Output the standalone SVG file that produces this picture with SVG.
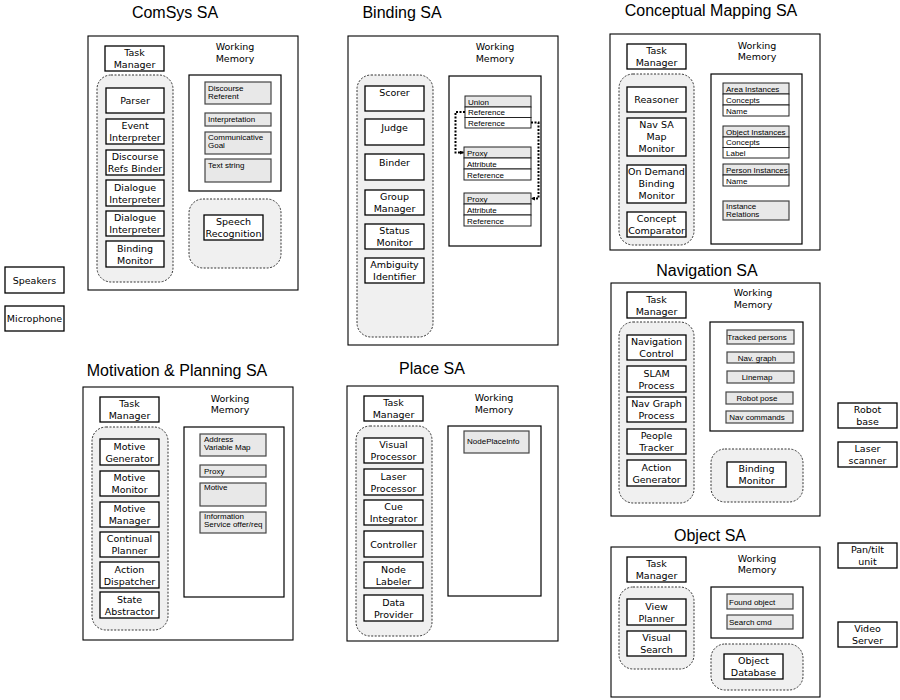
<svg xmlns="http://www.w3.org/2000/svg" width="900" height="700" viewBox="0 0 900 700">
<defs>
<style>
.title{font-family:"Liberation Sans",Arial,sans-serif;font-size:16px;text-anchor:middle;fill:#000}
.sa{fill:#fff;stroke:#000;stroke-width:1.1}
.grp{fill:#f0f0f0;stroke:#333;stroke-width:1;stroke-dasharray:2 1.5}
.node{fill:#fff;stroke:#000;stroke-width:1.3}
.t{font-family:"DejaVu Sans",Verdana,sans-serif;font-size:9.5px;text-anchor:middle;fill:#000}
.wm{fill:#fff;stroke:#000;stroke-width:1.2}
.item{fill:#e8e8e8;stroke:#444;stroke-width:1.2}
.row{fill:#fff;stroke:#222;stroke-width:1}
.hdr{fill:#e8e8e8;stroke:#222;stroke-width:1}
.s{font-family:"Liberation Sans",Arial,sans-serif;font-size:8px;fill:#000}
.sc{font-family:"Liberation Sans",Arial,sans-serif;font-size:8px;fill:#000;text-anchor:middle}
.conn{fill:none;stroke:#000;stroke-width:2;stroke-dasharray:2 1.5}
</style>
<marker id="ah" viewBox="0 0 10 10" refX="9" refY="5" markerWidth="4" markerHeight="4" orient="auto" markerUnits="userSpaceOnUse">
<path d="M0,0 L10,5 L0,10 z" fill="#000"/>
</marker>
</defs>
<rect x="0" y="0" width="900" height="700" fill="#fff"/>

<!-- ComSys SA -->
<g id="comsys">
<text class="title" x="175" y="18">ComSys SA</text>
<rect class="sa" x="88" y="36" width="210" height="254"/>
<text class="t" x="235" y="50">Working<tspan x="235" dy="11.5">Memory</tspan></text>
<rect class="grp" x="97" y="75" width="76" height="207" rx="14"/>
<rect class="wm" x="189" y="75" width="92" height="116"/>
<rect class="grp" x="189" y="199" width="92" height="69" rx="14"/>
</g>
<g id="comsys-task"><rect class="node" x="105" y="46" width="59" height="25"/><text class="t" x="134.5" y="56">Task<tspan x="134.5" dy="12">Manager</tspan></text></g>
<g id="comsys-parser"><rect class="node" x="106" y="88" width="58" height="25"/><text class="t" x="135" y="104">Parser</text></g>
<g id="comsys-event"><rect class="node" x="106" y="119" width="58" height="25"/><text class="t" x="135" y="129">Event<tspan x="135" dy="12">Interpreter</tspan></text></g>
<g id="comsys-drb"><rect class="node" x="106" y="150" width="58" height="25"/><text class="t" x="135" y="160">Discourse<tspan x="135" dy="12">Refs Binder</tspan></text></g>
<g id="comsys-di1"><rect class="node" x="106" y="180" width="58" height="26"/><text class="t" x="135" y="190.5">Dialogue<tspan x="135" dy="12">Interpreter</tspan></text></g>
<g id="comsys-di2"><rect class="node" x="106" y="211" width="58" height="25"/><text class="t" x="135" y="221">Dialogue<tspan x="135" dy="12">Interpreter</tspan></text></g>
<g id="comsys-bm"><rect class="node" x="106" y="241" width="58" height="26"/><text class="t" x="135" y="251.5">Binding<tspan x="135" dy="12">Monitor</tspan></text></g>
<g id="comsys-wm-dr"><rect class="item" x="205" y="82" width="66" height="22"/><text class="s" x="208" y="91">Discourse<tspan x="208" dy="8">Referent</tspan></text></g>
<g id="comsys-wm-int"><rect class="item" x="205" y="113" width="66" height="13"/><text class="s" x="208" y="122">Interpretation</text></g>
<g id="comsys-wm-cg"><rect class="item" x="205" y="132" width="66" height="22"/><text class="s" x="208" y="140">Communicative<tspan x="208" dy="8">Goal</tspan></text></g>
<g id="comsys-wm-ts"><rect class="item" x="205" y="159" width="66" height="23"/><text class="s" x="208" y="168">Text string</text></g>
<g id="comsys-sr"><rect class="node" x="204" y="215" width="59" height="25"/><text class="t" x="233.5" y="225">Speech<tspan x="233.5" dy="12">Recognition</tspan></text></g>
<g id="speakers"><rect class="node" x="5" y="267" width="59" height="26"/><text class="t" x="34.5" y="283.5">Speakers</text></g>
<g id="microphone"><rect class="node" x="5" y="306" width="59" height="25"/><text class="t" x="34.5" y="322">Microphone</text></g>

<!-- Binding SA -->
<g id="binding">
<text class="title" x="402" y="18">Binding SA</text>
<rect class="sa" x="348" y="36" width="210" height="309"/>
<text class="t" x="495" y="50">Working<tspan x="495" dy="11.5">Memory</tspan></text>
<rect class="grp" x="357" y="75" width="76" height="262" rx="14"/>
<rect class="wm" x="449" y="76" width="92" height="170"/>
</g>
<g id="binding-scorer"><rect class="node" x="365" y="86" width="59" height="25"/><text class="t" x="394.5" y="95.5">Scorer</text></g>
<g id="binding-judge"><rect class="node" x="365" y="119" width="59" height="26"/><text class="t" x="394.5" y="130.5">Judge</text></g>
<g id="binding-binder"><rect class="node" x="365" y="154" width="59" height="26"/><text class="t" x="394.5" y="165.5">Binder</text></g>
<g id="binding-gm"><rect class="node" x="365" y="190" width="59" height="25"/><text class="t" x="394.5" y="199.5">Group<tspan x="394.5" dy="12">Manager</tspan></text></g>
<g id="binding-sm"><rect class="node" x="365" y="224" width="59" height="25"/><text class="t" x="394.5" y="234">Status<tspan x="394.5" dy="12">Monitor</tspan></text></g>
<g id="binding-ai"><rect class="node" x="365" y="258" width="59" height="25"/><text class="t" x="394.5" y="267.5">Ambiguity<tspan x="394.5" dy="12">Identifier</tspan></text></g>
<g id="binding-union">
<rect class="hdr" x="465" y="96" width="66" height="11"/><text class="s" x="468" y="104.5">Union</text>
<rect class="row" x="465" y="107" width="66" height="10.5"/><text class="s" x="468" y="115">Reference</text>
<rect class="row" x="465" y="117.5" width="66" height="10.5"/><text class="s" x="468" y="125.5">Reference</text>
</g>
<g id="binding-proxy1">
<rect class="hdr" x="464" y="147" width="67" height="11"/><text class="s" x="467" y="155.5">Proxy</text>
<rect class="row" x="464" y="158" width="67" height="11"/><text class="s" x="467" y="166.5">Attribute</text>
<rect class="row" x="464" y="169" width="67" height="11"/><text class="s" x="467" y="177.5">Reference</text>
</g>
<g id="binding-proxy2">
<rect class="hdr" x="464" y="193" width="67" height="11"/><text class="s" x="467" y="201.5">Proxy</text>
<rect class="row" x="464" y="204" width="67" height="11"/><text class="s" x="467" y="212.5">Attribute</text>
<rect class="row" x="464" y="215" width="67" height="11"/><text class="s" x="467" y="223.5">Reference</text>
</g>
<g id="connectors">
<path class="conn" d="M465,112 H455.5 V152.5 H463.5" marker-end="url(#ah)"/>
<path class="conn" d="M531,122.5 H538.5 V198.5 H531.5" marker-end="url(#ah)"/>
</g>

<!-- Conceptual Mapping SA -->
<g id="cm">
<text class="title" x="711" y="16">Conceptual Mapping SA</text>
<rect class="sa" x="610" y="34" width="210" height="216"/>
<text class="t" x="757" y="48.5">Working<tspan x="757" dy="11.5">Memory</tspan></text>
<rect class="grp" x="619" y="74" width="75" height="171" rx="14"/>
<rect class="wm" x="711" y="74" width="91" height="170"/>
</g>
<g id="cm-task"><rect class="node" x="627" y="44" width="59" height="25"/><text class="t" x="656.5" y="54">Task<tspan x="656.5" dy="12">Manager</tspan></text></g>
<g id="cm-reasoner"><rect class="node" x="627" y="87" width="59" height="25"/><text class="t" x="656.5" y="103">Reasoner</text></g>
<g id="cm-navmap"><rect class="node" x="627" y="118" width="59" height="38"/><text class="t" x="656.5" y="128">Nav SA<tspan x="656.5" dy="12">Map</tspan><tspan x="656.5" dy="12">Monitor</tspan></text></g>
<g id="cm-odbm"><rect class="node" x="627" y="165" width="59" height="38"/><text class="t" x="656.5" y="175">On Demand<tspan x="656.5" dy="12">Binding</tspan><tspan x="656.5" dy="12">Monitor</tspan></text></g>
<g id="cm-cc"><rect class="node" x="627" y="212" width="59" height="25"/><text class="t" x="656.5" y="222">Concept<tspan x="656.5" dy="12">Comparator</tspan></text></g>
<g id="cm-area">
<rect class="hdr" x="723" y="83" width="66" height="11"/><text class="s" x="726" y="91.5">Area Instances</text>
<rect class="row" x="723" y="94" width="66" height="11"/><text class="s" x="726" y="102.5">Concepts</text>
<rect class="row" x="723" y="105" width="66" height="11"/><text class="s" x="726" y="113.5">Name</text>
</g>
<g id="cm-object">
<rect class="hdr" x="723" y="126" width="66" height="11"/><text class="s" x="726" y="134.5">Object Instances</text>
<rect class="row" x="723" y="137" width="66" height="10.5"/><text class="s" x="726" y="145">Concepts</text>
<rect class="row" x="723" y="147.5" width="66" height="10.5"/><text class="s" x="726" y="155.5">Label</text>
</g>
<g id="cm-person">
<rect class="hdr" x="723" y="164" width="66" height="11"/><text class="s" x="726" y="172.5">Person Instances</text>
<rect class="row" x="723" y="175" width="66" height="11"/><text class="s" x="726" y="183.5">Name</text>
</g>
<g id="cm-rel"><rect class="item" x="723" y="201" width="66" height="19"/><text class="s" x="726" y="209">Instance<tspan x="726" dy="8">Relations</tspan></text></g>

<!-- Navigation SA -->
<g id="nav">
<text class="title" x="707" y="276">Navigation SA</text>
<rect class="sa" x="611" y="283" width="209" height="233"/>
<text class="t" x="753" y="295.5">Working<tspan x="753" dy="12.5">Memory</tspan></text>
<rect class="grp" x="619" y="322" width="75" height="181" rx="14"/>
<rect class="wm" x="710" y="322" width="93" height="109"/>
<rect class="grp" x="711" y="449" width="92" height="53" rx="14"/>
</g>
<g id="nav-task"><rect class="node" x="627" y="292" width="59" height="26"/><text class="t" x="656.5" y="302.5">Task<tspan x="656.5" dy="12">Manager</tspan></text></g>
<g id="nav-nc"><rect class="node" x="627" y="335" width="59" height="25"/><text class="t" x="656.5" y="345">Navigation<tspan x="656.5" dy="12">Control</tspan></text></g>
<g id="nav-slam"><rect class="node" x="627" y="366" width="59" height="26"/><text class="t" x="656.5" y="376.5">SLAM<tspan x="656.5" dy="12">Process</tspan></text></g>
<g id="nav-ngp"><rect class="node" x="627" y="397" width="59" height="25"/><text class="t" x="656.5" y="407">Nav Graph<tspan x="656.5" dy="12">Process</tspan></text></g>
<g id="nav-pt"><rect class="node" x="627" y="429" width="59" height="25"/><text class="t" x="656.5" y="439">People<tspan x="656.5" dy="12">Tracker</tspan></text></g>
<g id="nav-ag"><rect class="node" x="627" y="460" width="59" height="26"/><text class="t" x="656.5" y="470.5">Action<tspan x="656.5" dy="12">Generator</tspan></text></g>
<g id="nav-wm-tp"><rect class="item" x="727" y="330" width="67" height="14"/><text class="sc" x="757" y="340">Tracked persons</text></g>
<g id="nav-wm-ng"><rect class="item" x="727" y="352" width="67" height="11"/><text class="sc" x="757" y="360.5">Nav. graph</text></g>
<g id="nav-wm-lm"><rect class="item" x="727" y="371" width="67" height="12"/><text class="sc" x="757" y="380">Linemap</text></g>
<g id="nav-wm-rp"><rect class="item" x="726" y="392" width="67" height="12"/><text class="sc" x="757" y="401">Robot pose</text></g>
<g id="nav-wm-nc"><rect class="item" x="726" y="411" width="67" height="12"/><text class="sc" x="757" y="420">Nav commands</text></g>
<g id="nav-bm"><rect class="node" x="727" y="462" width="59" height="25"/><text class="t" x="756.5" y="472">Binding<tspan x="756.5" dy="12">Monitor</tspan></text></g>
<g id="robot-base"><rect class="node" x="838" y="403" width="59" height="25"/><text class="t" x="867.5" y="413">Robot<tspan x="867.5" dy="12">base</tspan></text></g>
<g id="laser-scanner"><rect class="node" x="838" y="442" width="59" height="25"/><text class="t" x="867.5" y="452">Laser<tspan x="867.5" dy="12">scanner</tspan></text></g>

<!-- Motivation & Planning SA -->
<g id="mp">
<text class="title" x="177" y="376">Motivation &amp; Planning SA</text>
<rect class="sa" x="83" y="387" width="210" height="253"/>
<text class="t" x="230" y="401.5">Working<tspan x="230" dy="11.5">Memory</tspan></text>
<rect class="grp" x="92" y="427" width="76" height="203" rx="14"/>
<rect class="wm" x="184" y="427" width="100" height="170"/>
</g>
<g id="mp-task"><rect class="node" x="100" y="397" width="59" height="25"/><text class="t" x="129.5" y="407">Task<tspan x="129.5" dy="12">Manager</tspan></text></g>
<g id="mp-mg"><rect class="node" x="100" y="439" width="59" height="26"/><text class="t" x="129.5" y="449.5">Motive<tspan x="129.5" dy="12">Generator</tspan></text></g>
<g id="mp-mm"><rect class="node" x="100" y="471" width="59" height="25"/><text class="t" x="129.5" y="481">Motive<tspan x="129.5" dy="12">Monitor</tspan></text></g>
<g id="mp-mgr"><rect class="node" x="100" y="502" width="59" height="25"/><text class="t" x="129.5" y="512">Motive<tspan x="129.5" dy="12">Manager</tspan></text></g>
<g id="mp-cp"><rect class="node" x="100" y="532" width="59" height="25"/><text class="t" x="129.5" y="542">Continual<tspan x="129.5" dy="12">Planner</tspan></text></g>
<g id="mp-ad"><rect class="node" x="100" y="562" width="59" height="26"/><text class="t" x="129.5" y="572.5">Action<tspan x="129.5" dy="12">Dispatcher</tspan></text></g>
<g id="mp-sa"><rect class="node" x="100" y="592" width="59" height="26"/><text class="t" x="129.5" y="602.5">State<tspan x="129.5" dy="12">Abstractor</tspan></text></g>
<g id="mp-wm-avm"><rect class="item" x="200" y="434" width="66" height="22"/><text class="s" x="204" y="442">Address<tspan x="204" dy="8">Variable Map</tspan></text></g>
<g id="mp-wm-proxy"><rect class="item" x="200" y="465" width="66" height="12"/><text class="s" x="204" y="474">Proxy</text></g>
<g id="mp-wm-motive"><rect class="item" x="200" y="483" width="66" height="23"/><text class="s" x="204" y="490">Motive</text></g>
<g id="mp-wm-info"><rect class="item" x="200" y="512" width="66" height="21"/><text class="s" x="204" y="519">Information<tspan x="204" dy="8">Service offer/req</tspan></text></g>

<!-- Place SA -->
<g id="place">
<text class="title" x="432" y="374">Place SA</text>
<rect class="sa" x="347" y="386" width="211" height="255"/>
<text class="t" x="494" y="400.5">Working<tspan x="494" dy="12">Memory</tspan></text>
<rect class="grp" x="356" y="426" width="76" height="210" rx="14"/>
<rect class="wm" x="448" y="426" width="93" height="170"/>
</g>
<g id="place-task"><rect class="node" x="364" y="396" width="59" height="25"/><text class="t" x="393.5" y="406">Task<tspan x="393.5" dy="12">Manager</tspan></text></g>
<g id="place-vp"><rect class="node" x="364" y="438" width="59" height="25"/><text class="t" x="393.5" y="448">Visual<tspan x="393.5" dy="12">Processor</tspan></text></g>
<g id="place-lp"><rect class="node" x="364" y="469" width="59" height="26"/><text class="t" x="393.5" y="479.5">Laser<tspan x="393.5" dy="12">Processor</tspan></text></g>
<g id="place-ci"><rect class="node" x="364" y="500" width="59" height="25"/><text class="t" x="393.5" y="510">Cue<tspan x="393.5" dy="12">Integrator</tspan></text></g>
<g id="place-ctrl"><rect class="node" x="364" y="531" width="59" height="26"/><text class="t" x="393.5" y="547.5">Controller</text></g>
<g id="place-nl"><rect class="node" x="364" y="562" width="59" height="26"/><text class="t" x="393.5" y="572.5">Node<tspan x="393.5" dy="12">Labeler</tspan></text></g>
<g id="place-dp"><rect class="node" x="364" y="595" width="59" height="26"/><text class="t" x="393.5" y="605.5">Data<tspan x="393.5" dy="12">Provider</tspan></text></g>
<g id="place-wm-npi"><rect class="item" x="464" y="431" width="65" height="22"/><text class="s" x="467" y="444">NodePlaceInfo</text></g>

<!-- Object SA -->
<g id="object">
<text class="title" x="710" y="541">Object SA</text>
<rect class="sa" x="611" y="547" width="209" height="150"/>
<text class="t" x="757" y="561.5">Working<tspan x="757" dy="11.5">Memory</tspan></text>
<rect class="grp" x="619" y="587" width="75" height="82" rx="14"/>
<rect class="wm" x="711" y="587" width="92" height="51"/>
<rect class="grp" x="711" y="644" width="92" height="46" rx="14"/>
</g>
<g id="object-task"><rect class="node" x="627" y="557" width="59" height="25"/><text class="t" x="656.5" y="567">Task<tspan x="656.5" dy="12">Manager</tspan></text></g>
<g id="object-vp"><rect class="node" x="627" y="599" width="59" height="26"/><text class="t" x="656.5" y="609.5">View<tspan x="656.5" dy="12">Planner</tspan></text></g>
<g id="object-vs"><rect class="node" x="627" y="631" width="59" height="25"/><text class="t" x="656.5" y="641">Visual<tspan x="656.5" dy="12">Search</tspan></text></g>
<g id="object-wm-fo"><rect class="item" x="727" y="594" width="66" height="15"/><text class="s" x="729" y="604.5">Found object</text></g>
<g id="object-wm-sc"><rect class="item" x="727" y="615" width="66" height="14"/><text class="s" x="729" y="625">Search cmd</text></g>
<g id="object-db"><rect class="node" x="724" y="654" width="59" height="25"/><text class="t" x="753.5" y="664">Object<tspan x="753.5" dy="12">Database</tspan></text></g>
<g id="pan-tilt"><rect class="node" x="838" y="543" width="59" height="25"/><text class="t" x="867.5" y="553">Pan/tilt<tspan x="867.5" dy="12">unit</tspan></text></g>
<g id="video-server"><rect class="node" x="838" y="622" width="59" height="25"/><text class="t" x="867.5" y="632">Video<tspan x="867.5" dy="12">Server</tspan></text></g>
</svg>
